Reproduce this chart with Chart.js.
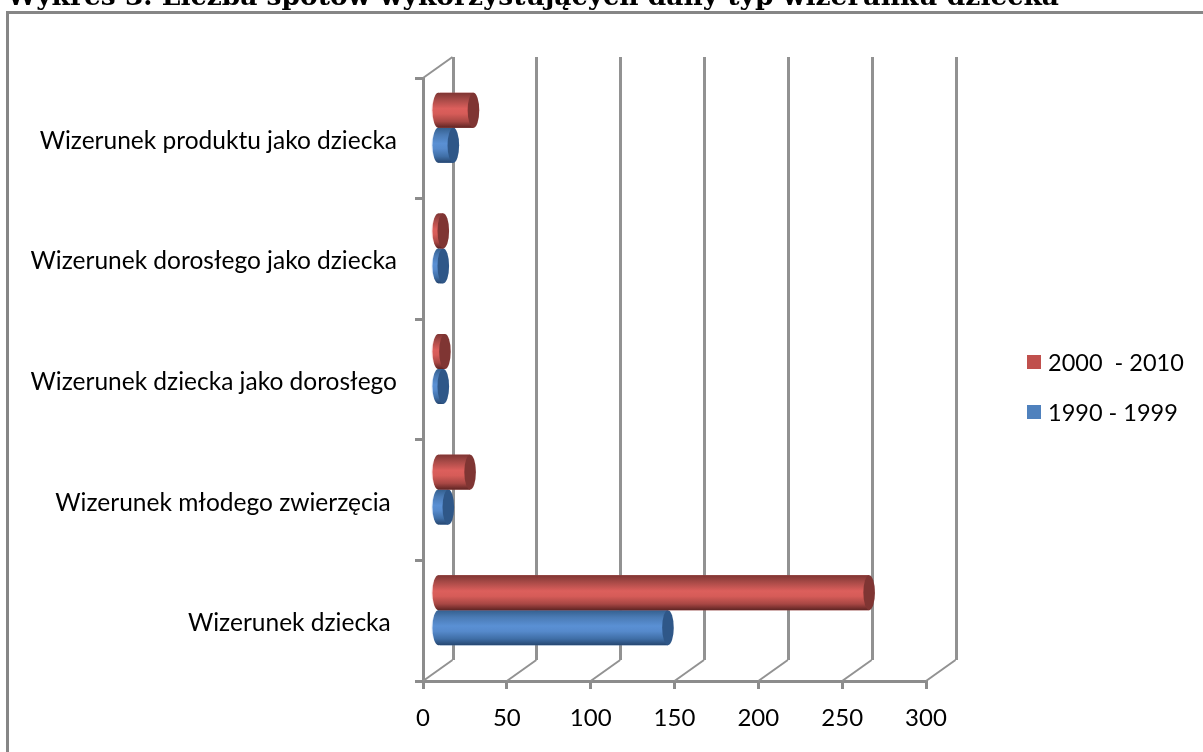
<!DOCTYPE html>
<html lang="pl">
<head>
<meta charset="utf-8">
<title>Wykres 3</title>
<script src="https://cdn.jsdelivr.net/npm/chart.js@4/dist/chart.umd.js"></script>
<style>
  html, body { margin: 0; padding: 0; background: #fff; overflow: hidden; }
  canvas { display: block; }
</style>
</head>
<body>
<canvas id="chart" width="1203" height="752"></canvas>
<script>
const chartTitle = 'Wykres 3. Liczba spotów wykorzystujących dany typ wizerunku dziecka';
const categories = [
  'Wizerunek produktu jako dziecka',
  'Wizerunek dorosłego jako dziecka',
  'Wizerunek dziecka jako dorosłego',
  'Wizerunek młodego zwierzęcia ',
  'Wizerunek dziecka '
];
const series2000 = [21, 3, 4, 19, 257];
const series1990 = [9, 3, 3, 6, 137];
const label2000 = '2000  - 2010';
const label1990 = '1990 - 1999';
const axisValues = [0, 50, 100, 150, 200, 250, 300];

const FONT = 'Lato, Carlito, Calibri, sans-serif';
const AXIS = '#8c8c8c';
const DEPTH_X = 30.5, DEPTH_Y = -21;

// Shading for each series: band stops of the cylinder, plus the end-cap colour.
const shades = [
  { stops: ['#7f3533', '#a84a47', '#dc5f5c', '#d65c58', '#a84744', '#5e2423'], cap: '#7f3533' },
  { stops: ['#34608f', '#4a7ab4', '#5a90d4', '#568acc', '#3f6ea6', '#264670'], cap: '#2f5788' }
];
const stopAt = [0, 0.2, 0.45, 0.6, 0.82, 1];

// Back wall and floor behind the front axes.
const wallsPlugin = {
  id: 'walls',
  beforeDatasetsDraw(chart) {
    const { ctx, chartArea: a, scales: { x } } = chart;
    ctx.save();
    ctx.strokeStyle = '#929292';
    ctx.lineWidth = 3;
    axisValues.forEach(v => {
      const px = Math.round(x.getPixelForValue(v) + DEPTH_X) - 0.5;
      ctx.beginPath();
      ctx.moveTo(px, a.top + DEPTH_Y);
      ctx.lineTo(px, a.bottom + DEPTH_Y);
      ctx.stroke();
    });
    ctx.lineWidth = 2;
    axisValues.forEach(v => {
      const px = x.getPixelForValue(v);
      ctx.beginPath();
      ctx.moveTo(px, a.bottom);
      ctx.lineTo(px + DEPTH_X - 1, a.bottom + DEPTH_Y);
      ctx.stroke();
    });
    ctx.beginPath();
    ctx.moveTo(a.left, a.top);
    ctx.lineTo(a.left + DEPTH_X - 1, a.top + DEPTH_Y);
    ctx.stroke();
    ctx.restore();
  }
};

function capEllipse(ctx, cx, cy, rx, ry) {
  ctx.beginPath();
  ctx.ellipse(cx, cy, rx, ry, 0, 0, Math.PI * 2);
}

// Bars stand at mid depth and are painted as cylinders over their element geometry.
const cylinderPlugin = {
  id: 'cylinders',
  beforeDatasetDraw(chart) {
    chart.ctx.save();
    chart.ctx.translate(DEPTH_X / 2, DEPTH_Y / 2);
  },
  afterDatasetDraw(chart, args) {
    const { ctx } = chart;
    const shade = shades[args.index];
    args.meta.data.forEach(bar => {
      const top = bar.y - bar.height / 2;
      const ry = bar.height / 2, rx = 5.8;
      const rear = bar.base - 1.5;
      const grad = ctx.createLinearGradient(0, top, 0, top + bar.height);
      shade.stops.forEach((c, i) => grad.addColorStop(stopAt[i], c));

      ctx.globalAlpha = 0.15;
      ctx.fillStyle = shade.stops[2];
      capEllipse(ctx, rear - 1.2, bar.y, rx, ry - 3);
      ctx.fill();
      ctx.globalAlpha = 1;

      ctx.fillStyle = grad;
      capEllipse(ctx, rear, bar.y, rx, ry);
      ctx.fill();
      ctx.fillRect(rear, top, bar.x - rear, bar.height);
      capEllipse(ctx, bar.x, bar.y, rx, ry);
      ctx.fillStyle = shade.cap;
      ctx.fill();
    });
    ctx.restore();
  }
};

// Heading, frame and series key around the plot.
const textPlugin = {
  id: 'pageText',
  afterDraw(chart) {
    const { ctx } = chart;
    ctx.save();
    ctx.strokeStyle = '#868686';
    ctx.lineWidth = 3;
    ctx.beginPath();
    ctx.moveTo(7.5, 760);
    ctx.lineTo(7.5, 12.5);
    ctx.lineTo(1210, 12.5);
    ctx.stroke();

    ctx.fillStyle = '#000';
    ctx.textBaseline = 'alphabetic';
    ctx.textAlign = 'left';
    ctx.font = 'bold 26.5px "DejaVu Serif", serif';
    ctx.fillText(chartTitle, 7, 5, 1052);

    ctx.font = '23.5px ' + FONT;
    ctx.textBaseline = 'middle';
    const keyY = [362, 412];
    chart.data.datasets.forEach((ds, i) => {
      ctx.fillStyle = ds.backgroundColor;
      ctx.fillRect(1027, keyY[i] - 7, 14, 14);
      ctx.fillStyle = '#000';
      ctx.fillText(ds.label, 1048, keyY[i] + 1);
    });
    ctx.restore();
  }
};

new Chart(document.getElementById('chart'), {
  type: 'bar',
  data: {
    labels: categories,
    datasets: [
      { label: label2000, data: series2000, backgroundColor: '#c0504d', categoryPercentage: 0.58, barPercentage: 1 },
      { label: label1990, data: series1990, backgroundColor: '#4f81bd', categoryPercentage: 0.58, barPercentage: 1 }
    ]
  },
  options: {
    indexAxis: 'y',
    responsive: false,
    animation: false,
    layout: { padding: { top: 78, right: 277, bottom: 0, left: 0 } },
    plugins: { legend: { display: false }, title: { display: false }, tooltip: { enabled: false } },
    scales: {
      x: {
        min: 0,
        max: 300,
        afterFit(scale) { scale.height = 71; },
        afterBuildTicks(scale) { scale.ticks = axisValues.map(value => ({ value })); },
        grid: { drawOnChartArea: false, drawTicks: true, tickLength: 8, color: AXIS, lineWidth: 3 },
        border: { color: AXIS, width: 3 },
        ticks: { color: '#000', padding: 15, maxRotation: 0, font: { family: FONT, size: 24 } }
      },
      y: {
        afterFit(scale) { scale.width = 423; },
        grid: { offset: true, drawOnChartArea: false, drawTicks: true, tickLength: 8, color: AXIS, lineWidth: 3 },
        border: { color: AXIS, width: 3 },
        ticks: { color: '#000', padding: 18, labelOffset: 2.5, autoSkip: false, font: { family: FONT, size: 24.5 } }
      }
    }
  },
  plugins: [wallsPlugin, cylinderPlugin, textPlugin]
});
</script>
</body>
</html>
